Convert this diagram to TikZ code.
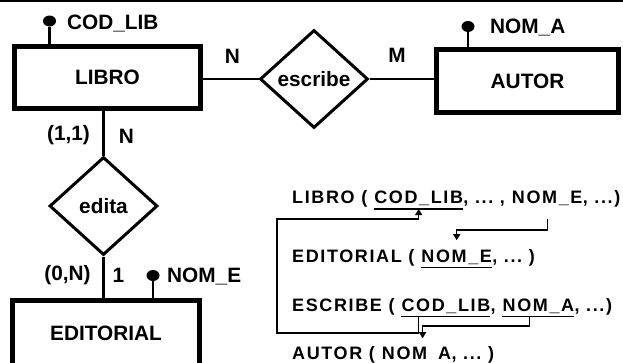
\documentclass[tikz,border=0pt]{standalone}
\usepackage{fontspec}
\setmainfont{Liberation Sans}
\newfontfamily\rtfam{Liberation Sans}[LetterSpace=9]
\usetikzlibrary{shapes.geometric,arrows.meta}
\newcommand\dfont{\fontsize{20.8}{24}\selectfont\bfseries}
\newcommand\rfont{\rtfam\fontsize{18}{22}\selectfont\bfseries}
\newcommand\gap{\kern6.6pt}
\begin{document}
\begin{tikzpicture}[x=1pt,y=-1pt,
  ent/.style={draw, rectangle, line width=5pt, inner sep=0pt, font=\dfont},
  rel/.style={draw, diamond, line width=3pt, inner sep=0pt, minimum width=108pt, minimum height=98pt, font=\dfont},
  conn/.style={line width=2.5pt},
  stem/.style={line width=2.2pt},
  dotnode/.style={ellipse, fill, inner sep=0pt, minimum width=13pt, minimum height=11pt},
  attr/.style={font=\dfont, inner sep=0pt, anchor=base west},
  card/.style={font=\dfont, inner sep=0pt},
  rt/.style={font=\rfont, inner sep=0pt, anchor=base west},
  ul/.style={line width=1.3pt},
  fk/.style={line width=1.3pt, -{Triangle[width=7pt,length=6pt]}}]
\useasboundingbox (0,0) rectangle (623,362);
\clip (0,0) rectangle (623,362);
\draw[line width=2pt] (0,1) -- (623,1);

% entities and relationships
\node[ent, minimum width=186pt, minimum height=62pt] (libro) at (107.5,77.5) {LIBRO};
\node[ent, minimum width=182pt, minimum height=63pt] (autor) at (527.5,81) {AUTOR};
\node[ent, minimum width=187pt, minimum height=65pt] (editorial) at (106,333) {EDITORIAL};
\node[rel] (escribe) at (314,79) {escribe};
\node[rel] (edita) at (103.5,206) {edita};

\draw[conn] (escribe.west) -- (escribe.west -| libro.east);
\draw[conn] (escribe.east) -- (escribe.east -| autor.west);
\draw[conn] (edita.north) -- (edita.north |- libro.south);
\draw[conn] (edita.south) -- (edita.south |- editorial.north);

% attributes
\node[dotnode] (dcod) at (49.5,21) {};
\node[attr] (tcod) at (67,29) {COD\_LIB};
\draw[stem] (dcod) -- (dcod |- libro.north);
\node[dotnode] (dnoma) at (468,26.5) {};
\node[attr] (tnoma) at (490,33) {NOM\_A};
\draw[stem] (dnoma) -- (dnoma |- autor.north);
\node[dotnode] (dnome) at (153,275.5) {};
\node[attr] (tnome) at (167,282) {NOM\_E};
\draw[stem] (dnome) -- (dnome |- editorial.north);

% cardinalities
\node[card] (cardN1) at (232.5,56.5) {N};
\node[card] (cardM) at (397,55) {M};
\node[card] (card11) at (68.5,135.5) {(1,1)};
\node[card] (cardN2) at (126.5,136) {N};
\node[card] (card0N) at (67.5,275) {(0,N)};
\node[card] (card1) at (118.5,275) {1};

% relational schema
\node[rt] (r1a) at (292,203.5) {LIBRO~(\gap};
\node[rt] (k1) at (r1a.base east) {COD\_LIB};
\node[rt] (r1c) at (k1.base east) {,~...~,\gap};
\node[rt] (f1) at (r1c.base east) {NOM\_E};
\node[rt] (r1d) at (f1.base east) {,~...)};

\node[rt] (r2a) at (292,262) {EDITORIAL~(\gap};
\node[rt] (f2) at (r2a.base east) {NOM\_E};
\node[rt] (r2c) at (f2.base east) {,~...~)};

\node[rt] (r3a) at (292,311) {ESCRIBE~(\gap};
\node[rt] (k3) at (r3a.base east) {COD\_LIB};
\node[rt] (r3c) at (k3.base east) {,\gap};
\node[rt] (a3) at (r3c.base east) {NOM\_A};
\node[rt] (r3d) at (a3.base east) {,~...)};

\node[rt] (r4a) at (292,359) {AUTOR~(\gap};
\node[rt] (a4) at (r4a.base east) {NOM\kern11pt A};
\node[rt] (r4c) at (a4.base east) {,~...~)};

\draw[ul] ([yshift=-5.5pt]k1.base west) -- ([yshift=-5.5pt]k1.base east);
\draw[ul] ([yshift=-5.5pt]f2.base west) -- ([yshift=-5.5pt]f2.base east);
\draw[ul] ([yshift=-5.5pt]k3.base west) -- ([yshift=-5.5pt]k3.base east);
\draw[ul] ([yshift=-5.5pt]a3.base west) -- ([yshift=-5.5pt]a3.base east);

\coordinate (u1) at ([yshift=-5.5pt]k1.base);
\coordinate (u3) at ([yshift=-5.5pt]k3.base);
\coordinate (aTop) at (277,219);
\coordinate (aBot) at (277,333);
\draw[fk] (u3 -| u1) |- (aBot) -- (aTop) -| (u1);

\coordinate (bTop) at (f1 |- aTop);
\coordinate (bTip) at ([yshift=9pt]f2.north);
\coordinate (bLev) at (0,230);
\draw[fk] (bTop) |- (bLev -| bTip) -- (bTip);

\coordinate (u3a) at ([yshift=-5.5pt]a3.base);
\coordinate (cStart) at ([xshift=-9pt]u3a);
\coordinate (cTip) at ([xshift=6pt,yshift=8pt]a4.north);
\coordinate (cLev) at (0,326);
\draw[fk] (cStart) |- (cLev -| cTip) -- (cTip);
\end{tikzpicture}
\end{document}
